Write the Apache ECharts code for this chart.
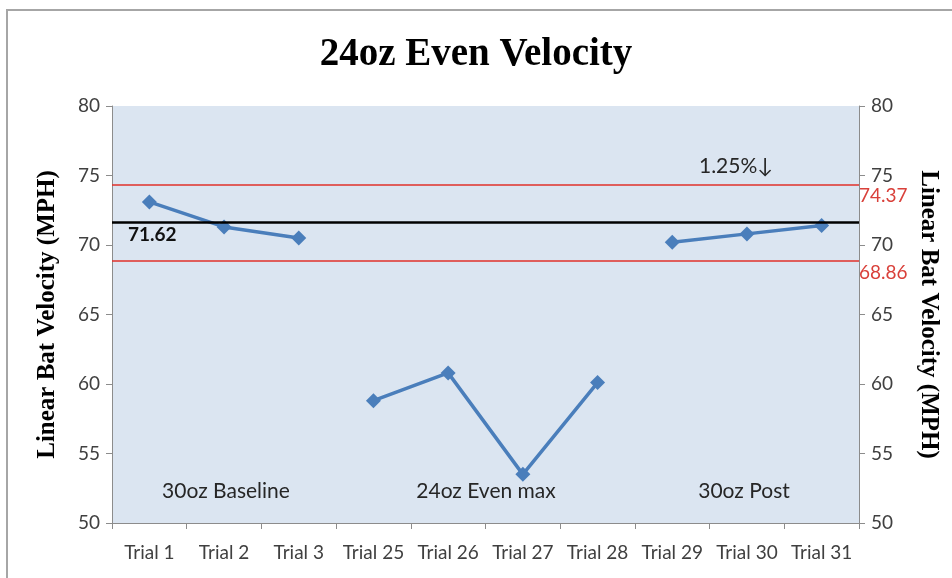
<!DOCTYPE html>
<html>
<head>
<meta charset="utf-8">
<script src="https://cdn.jsdelivr.net/npm/echarts@6/dist/echarts.min.js"></script>
<style>
  html, body { margin: 0; padding: 0; background: #fff; }
  #main { width: 952px; height: 578px; }
</style>
</head>
<body>
<div id="main"></div>
<script>
const categories = ['Trial 1', 'Trial 2', 'Trial 3', 'Trial 25', 'Trial 26', 'Trial 27', 'Trial 28', 'Trial 29', 'Trial 30', 'Trial 31']
const velocity = [73.1, 71.3, 70.5, null, null, null, null, null, null, null]
const evenMax = [null, null, null, 58.8, 60.8, 53.5, 60.1, null, null, null]
const post = [null, null, null, null, null, null, null, 70.2, 70.8, 71.4]
const meanLine = 71.62
const upperLine = 74.37
const lowerLine = 68.86
const yTicks = { min: 50, max: 80, interval: 5 }

const tickFont = { fontFamily: 'Lato', fontSize: 19, color: '#404040' }
const nameFont = { fontFamily: 'Liberation Serif', fontSize: 25, fontWeight: 'bold', color: '#000' }
const blue = '#4a7ebb'

const chart = echarts.init(document.getElementById('main'))

const lineSeries = data => ({
  type: 'line',
  data: data,
  connectNulls: false,
  symbol: 'diamond',
  symbolSize: 15,
  lineStyle: { color: blue, width: 3.5 },
  itemStyle: { color: blue },
  animation: false
})

const series = [lineSeries(velocity), lineSeries(evenMax), lineSeries(post)]
series[0].markLine = {
  silent: true,
  symbol: ['none', 'none'],
  animation: false,
  data: [
    {
      yAxis: meanLine,
      lineStyle: { color: '#000', width: 2.5, type: 'solid' },
      label: {
        position: 'insideStartBottom', distance: [16, 3],
        formatter: String(meanLine), fontFamily: 'Lato', fontWeight: 'bold', fontSize: 19, color: '#111'
      }
    },
    {
      yAxis: upperLine,
      lineStyle: { color: '#e0302a', width: 1.5, type: 'solid' },
      label: {
        position: 'end', distance: 0, offset: [0, 12],
        formatter: String(upperLine), fontFamily: 'Lato', fontSize: 19, color: '#d9403a'
      }
    },
    {
      yAxis: lowerLine,
      lineStyle: { color: '#e0302a', width: 1.5, type: 'solid' },
      label: {
        position: 'end', distance: 0, offset: [0, 12],
        formatter: String(lowerLine), fontFamily: 'Lato', fontSize: 19, color: '#d9403a'
      }
    }
  ]
}

const annotation = (text, x, y) => ({
  type: 'text', x: x, y: y,
  style: { text: text, fontFamily: 'Lato', fontSize: 21, fill: '#262626', align: 'center', verticalAlign: 'middle' }
})

const yAxis = (pos, name, rotate, gap) => ({
  type: 'value',
  position: pos,
  min: yTicks.min, max: yTicks.max, interval: yTicks.interval,
  name: name, nameLocation: 'middle', nameGap: gap, nameRotate: rotate,
  nameTextStyle: nameFont,
  axisLine: { show: true, lineStyle: { color: '#8c8c8c', width: 1 } },
  axisTick: { show: true, length: 6, lineStyle: { color: '#8c8c8c' } },
  axisLabel: Object.assign({ margin: 12 }, tickFont),
  splitLine: { show: false }
})

chart.setOption({
  backgroundColor: '#fff',
  animation: false,
  title: {
    text: '24oz Even Velocity',
    left: 'center', top: 30,
    textStyle: { fontFamily: 'Liberation Serif', fontSize: 39, fontWeight: 'bold', color: '#000' }
  },
  grid: {
    left: 112, right: 93, top: 106, bottom: 55,
    show: true, backgroundColor: '#dbe5f1', borderWidth: 0
  },
  xAxis: {
    type: 'category',
    data: categories,
    boundaryGap: true,
    axisLine: { lineStyle: { color: '#8c8c8c', width: 1 } },
    axisTick: { show: true, length: 6, alignWithLabel: false, lineStyle: { color: '#8c8c8c' } },
    axisLabel: Object.assign({ margin: 20, interval: 0 }, tickFont)
  },
  yAxis: [
    yAxis('left', 'Linear Bat Velocity (MPH)', 90, 52),
    yAxis('right', 'Linear Bat Velocity (MPH)', -90, 57)
  ],
  graphic: [
    { type: 'rect', shape: { x: 7, y: 10, width: 960, height: 580 }, style: { fill: 'none', stroke: '#a6a6a6', lineWidth: 2 }, z: -1 },
    annotation('30oz Baseline', 226, 491),
    annotation('24oz Even max', 486, 491),
    annotation('30oz Post', 744, 491),
    annotation('1.25%\u2193', 736, 166)
  ],
  series: series
})
</script>
</body>
</html>
